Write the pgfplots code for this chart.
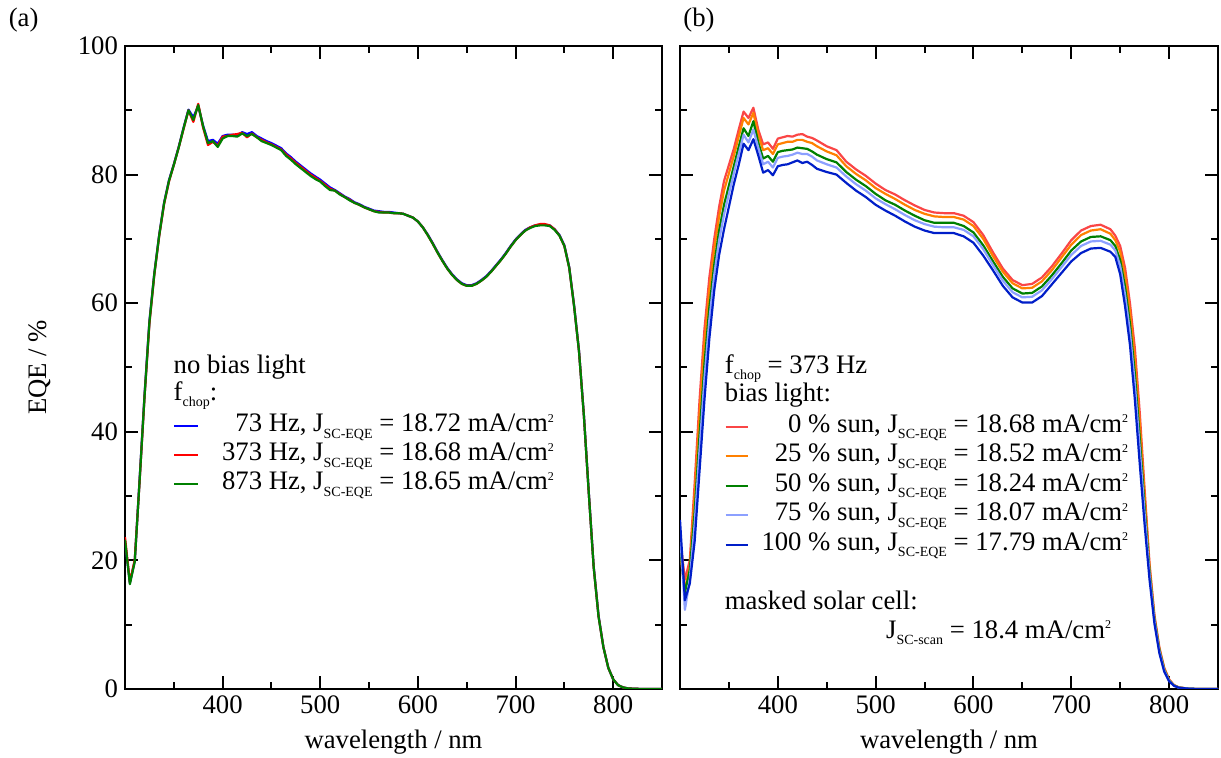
\documentclass[border=0pt]{standalone}
\usepackage{fontspec}
\setmainfont{Liberation Serif}
\usepackage{pgfplots}
\pgfplotsset{compat=1.18}
\newcommand{\fs}{\fontsize{13.35}{16}\selectfont}
\newcommand{\sub}[1]{\raisebox{-3.3pt}{\fontsize{7}{7}\selectfont #1}}
\newcommand{\sq}{\raisebox{4.8pt}{\fontsize{6}{6}\selectfont 2}}
\definecolor{cA}{RGB}{0,0,255}
\definecolor{cR}{RGB}{255,0,0}
\definecolor{cG}{RGB}{0,128,0}
\definecolor{bR}{RGB}{250,70,70}
\definecolor{bO}{RGB}{255,128,0}
\definecolor{bG}{RGB}{0,128,0}
\definecolor{bL}{RGB}{140,160,255}
\definecolor{bB}{RGB}{0,30,200}
\pgfplotsset{
  eqe/.style={
    scale only axis, width=268.5pt, height=321.5pt,
    xmin=300, xmax=850, ymin=0, ymax=100,
    xtick={400,500,600,700,800}, minor xtick={350,450,550,650,750},
    ytick={0,20,40,60,80,100}, minor ytick={10,30,50,70,90},
    tick align=inside, major tick length=6.5pt, minor tick length=3.3pt,
    every tick/.style={black, line width=1pt},
    axis line style={line width=1pt},
    tick label style={font=\fs},
    label style={font=\fs},
    /pgf/number format/assume math mode=true,
    xlabel={wavelength / nm},
    x label style={at={(axis description cs:0.5,-0.082)}, anchor=center},
    no markers, every axis plot/.append style={line width=1.1pt, line join=round},
    legend cell align=left,
    legend image code/.code={\draw[#1] (0pt,0pt) -- (11.7pt,0pt);},
  }
}
\begin{document}
\begin{tikzpicture}[font=\fs]
\path[use as bounding box] (0,0) rectangle (610.5pt,379pt);
\node[anchor=west, inner sep=0] at (4.2pt,369pt) {(a)};
\node[anchor=west, inner sep=0] at (341.5pt,369pt) {(b)};
\begin{axis}[eqe, at={(62.5pt,34.5pt)}, anchor=south west,
  ylabel={EQE / \%},
  y label style={at={(axis description cs:-0.158,0.5)}, anchor=center},
  legend style={at={(axis description cs:0.0895,0.431)}, anchor=north west,
    draw=none, fill=none, inner sep=0pt, outer sep=0pt, font=\fs, row sep=0pt,
    nodes={inner sep=0pt, text height=10pt, text depth=4.5pt},
    /tikz/every odd column/.append style={column sep=11.7pt}},
]
\addplot[cA] coordinates {(300,23.0)(305,16.5)(310,19.9)(315,32.7)(320,45.7)(325,57.2)(330,64.6)(335,70.6)(340,75.6)(345,79.1)(350,81.6)(355,84.3)(360,87.3)(365,90.1)(370,88.9)(375,90.7)(380,87.6)(385,85.2)(390,85.4)(395,84.8)(400,86.0)(405,86.2)(410,86.2)(415,86.1)(420,86.6)(425,86.3)(430,86.6)(435,86.0)(440,85.6)(445,85.2)(450,84.9)(455,84.5)(460,84.1)(465,83.3)(470,82.7)(475,82.0)(480,81.4)(485,80.8)(490,80.2)(495,79.7)(500,79.2)(505,78.6)(510,78.0)(515,77.6)(520,77.1)(525,76.6)(530,76.2)(535,75.7)(540,75.4)(545,75.0)(550,74.7)(555,74.4)(560,74.3)(565,74.2)(570,74.2)(575,74.1)(580,74.0)(585,73.9)(590,73.6)(595,73.3)(600,72.7)(605,71.8)(610,70.7)(615,69.4)(620,68.0)(625,66.7)(630,65.5)(635,64.5)(640,63.7)(645,63.1)(650,62.8)(655,62.8)(660,63.1)(665,63.6)(670,64.2)(675,65.0)(680,65.9)(685,66.8)(690,67.8)(695,68.9)(700,69.9)(705,70.7)(710,71.4)(715,71.8)(720,72.1)(725,72.2)(730,72.2)(735,72.1)(740,71.5)(745,70.6)(750,69.0)(755,65.6)(760,59.6)(765,52.6)(770,42.6)(775,30.6)(780,19.1)(785,11.4)(790,6.5)(795,3.3)(800,1.5)(805,0.6)(810,0.25)(815,0.1)(820,0.05)(830,0)(840,0)(850,0)};
\addlegendentry{\phantom{3}73 Hz, J\sub{SC-EQE} = 18.72 mA/cm\sq}
\addplot[cR] coordinates {(300,23.6)(305,16.6)(310,20.1)(315,32.4)(320,45.4)(325,56.8)(330,64.4)(335,70.4)(340,75.4)(345,78.9)(350,81.5)(355,84.2)(360,87.1)(365,90.0)(370,88.2)(375,91.0)(380,87.3)(385,84.6)(390,85.1)(395,84.5)(400,85.9)(405,86.0)(410,86.2)(415,86.3)(420,86.5)(425,85.8)(430,86.4)(435,85.8)(440,85.4)(445,85.0)(450,84.7)(455,84.3)(460,83.9)(465,83.1)(470,82.5)(475,81.8)(480,81.2)(485,80.6)(490,80.0)(495,79.5)(500,79.0)(505,78.4)(510,77.8)(515,77.5)(520,77.0)(525,76.5)(530,76.1)(535,75.6)(540,75.3)(545,74.9)(550,74.6)(555,74.3)(560,74.2)(565,74.1)(570,74.1)(575,74.0)(580,74.0)(585,73.9)(590,73.6)(595,73.3)(600,72.7)(605,71.8)(610,70.6)(615,69.3)(620,67.9)(625,66.6)(630,65.4)(635,64.4)(640,63.6)(645,63.0)(650,62.7)(655,62.7)(660,63.0)(665,63.5)(670,64.1)(675,64.9)(680,65.8)(685,66.7)(690,67.7)(695,68.8)(700,69.8)(705,70.6)(710,71.3)(715,71.8)(720,72.1)(725,72.3)(730,72.3)(735,72.1)(740,71.5)(745,70.5)(750,68.9)(755,65.5)(760,59.5)(765,52.5)(770,42.5)(775,30.5)(780,19.0)(785,11.3)(790,6.5)(795,3.3)(800,1.5)(805,0.6)(810,0.25)(815,0.1)(820,0.05)(830,0)(840,0)(850,0)};
\addlegendentry{373 Hz, J\sub{SC-EQE} = 18.68 mA/cm\sq}
\addplot[cG] coordinates {(300,23.2)(305,16.3)(310,19.8)(315,32.5)(320,45.5)(325,57.0)(330,64.5)(335,70.5)(340,75.5)(345,79.0)(350,81.5)(355,84.2)(360,87.2)(365,90.0)(370,88.5)(375,90.8)(380,87.5)(385,84.9)(390,85.2)(395,84.3)(400,85.6)(405,86.0)(410,86.0)(415,85.9)(420,86.4)(425,86.0)(430,86.3)(435,85.8)(440,85.2)(445,84.9)(450,84.6)(455,84.2)(460,83.8)(465,82.9)(470,82.3)(475,81.6)(480,81.0)(485,80.4)(490,79.8)(495,79.3)(500,78.9)(505,78.2)(510,77.6)(515,77.5)(520,76.9)(525,76.5)(530,76.0)(535,75.6)(540,75.3)(545,74.9)(550,74.6)(555,74.3)(560,74.1)(565,74.1)(570,74.1)(575,74.0)(580,74.0)(585,73.9)(590,73.6)(595,73.3)(600,72.7)(605,71.8)(610,70.6)(615,69.3)(620,67.9)(625,66.6)(630,65.4)(635,64.4)(640,63.6)(645,63.0)(650,62.7)(655,62.7)(660,63.0)(665,63.5)(670,64.1)(675,64.9)(680,65.8)(685,66.7)(690,67.7)(695,68.8)(700,69.8)(705,70.6)(710,71.3)(715,71.7)(720,72.0)(725,72.1)(730,72.1)(735,72.0)(740,71.4)(745,70.5)(750,68.9)(755,65.5)(760,59.5)(765,52.5)(770,42.5)(775,30.5)(780,19.0)(785,11.3)(790,6.5)(795,3.3)(800,1.5)(805,0.6)(810,0.25)(815,0.1)(820,0.05)(830,0)(840,0)(850,0)};
\addlegendentry{873 Hz, J\sub{SC-EQE} = 18.65 mA/cm\sq}
\node[anchor=base west, inner sep=0] at (axis cs:349.5,49.1) {no bias light};
\node[anchor=base west, inner sep=0] at (axis cs:349.5,44.9) {f\sub{chop}:};
\end{axis}
\begin{axis}[eqe, at={(340pt,34.5pt)}, anchor=south west, width=269pt,
  yticklabels={},
  legend style={at={(axis description cs:0.0827,0.431)}, anchor=north west,
    draw=none, fill=none, inner sep=0pt, outer sep=0pt, font=\fs, row sep=0pt,
    nodes={inner sep=0pt, text height=10.25pt, text depth=4.5pt},
    /tikz/every odd column/.append style={column sep=6.2pt}},
  legend image code/.code={\draw[#1] (0pt,0pt) -- (11.2pt,0pt);},
]
\addplot[bR] coordinates {(300,23.7)(305,17.0)(310,20.0)(315,32.0)(320,45.0)(325,56.0)(330,64.0)(335,70.0)(340,75.0)(345,79.0)(350,81.5)(355,84.0)(360,87.0)(365,89.8)(370,88.8)(375,90.4)(380,87.0)(385,84.7)(390,85.0)(395,84.0)(400,85.6)(405,85.8)(410,86.0)(415,85.9)(420,86.2)(425,86.3)(430,85.9)(435,85.7)(440,85.3)(450,84.4)(460,83.8)(470,82.0)(480,80.8)(490,79.8)(500,78.6)(510,77.6)(520,76.9)(530,76.0)(540,75.2)(550,74.5)(560,74.1)(570,74.0)(580,74.0)(590,73.6)(600,72.6)(610,70.6)(620,67.9)(630,65.4)(640,63.6)(650,62.8)(660,63.0)(670,64.0)(680,65.7)(690,67.7)(700,69.8)(710,71.3)(720,72.0)(730,72.2)(740,71.5)(745,70.5)(750,68.9)(755,65.5)(760,60.0)(765,53.0)(770,43.0)(775,31.0)(780,19.5)(785,11.5)(790,6.5)(795,3.3)(800,1.5)(805,0.6)(810,0.25)(820,0.05)(830,0)(850,0)};
\addlegendentry{\phantom{10}0 \% sun, J\sub{SC-EQE} = 18.68 mA/cm\sq}
\addplot[bO] coordinates {(300,21.2)(305,15.5)(310,19.0)(315,30.2)(320,42.8)(325,53.8)(330,62.1)(335,68.4)(340,73.5)(345,77.5)(350,80.2)(355,82.9)(360,85.9)(365,88.8)(370,87.8)(375,89.6)(380,86.2)(385,83.8)(390,84.1)(395,83.2)(400,84.7)(405,84.9)(410,85.1)(415,85.1)(420,85.4)(425,85.4)(430,85.1)(435,84.9)(440,84.4)(450,83.6)(460,83.0)(470,81.3)(480,80.1)(490,79.1)(500,77.9)(510,77.0)(520,76.2)(530,75.3)(540,74.5)(550,73.9)(560,73.5)(570,73.4)(580,73.4)(590,73.0)(600,72.0)(610,70.0)(620,67.3)(630,64.9)(640,63.1)(650,62.3)(660,62.4)(670,63.4)(680,65.1)(690,67.1)(700,69.1)(710,70.6)(720,71.3)(730,71.5)(740,70.8)(745,69.8)(750,68.0)(755,64.3)(760,58.7)(765,51.4)(770,41.4)(775,29.9)(780,19.0)(785,11.2)(790,6.3)(795,3.2)(800,1.4)(805,0.6)(810,0.24)(820,0.05)(830,0)(850,0)};
\addlegendentry{\phantom{1}25 \% sun, J\sub{SC-EQE} = 18.52 mA/cm\sq}
\addplot[bG] coordinates {(300,22.0)(305,15.0)(310,18.5)(315,27.5)(320,39.5)(325,50.5)(330,59.3)(335,66.0)(340,71.3)(345,75.3)(350,78.3)(355,81.3)(360,84.3)(365,87.2)(370,86.0)(375,88.3)(380,85.0)(385,82.5)(390,82.9)(395,82.0)(400,83.5)(405,83.7)(410,83.8)(415,83.9)(420,84.2)(425,84.1)(430,84.0)(435,83.6)(440,83.1)(450,82.4)(460,81.9)(470,80.4)(480,79.2)(490,78.2)(500,77.0)(510,76.0)(520,75.3)(530,74.4)(540,73.6)(550,72.9)(560,72.5)(570,72.5)(580,72.5)(590,72.0)(600,71.0)(610,69.0)(620,66.5)(630,64.1)(640,62.3)(650,61.5)(660,61.6)(670,62.6)(680,64.3)(690,66.2)(700,68.2)(710,69.6)(720,70.3)(730,70.4)(740,69.8)(745,68.9)(750,66.7)(755,62.5)(760,56.8)(765,49.0)(770,39.0)(775,28.3)(780,18.3)(785,10.9)(790,6.1)(795,3.0)(800,1.35)(805,0.55)(810,0.22)(820,0.05)(830,0)(850,0)};
\addlegendentry{\phantom{1}50 \% sun, J\sub{SC-EQE} = 18.24 mA/cm\sq}
\addplot[bL] coordinates {(300,24.5)(305,12.3)(310,17.0)(315,25.7)(320,37.3)(325,48.3)(330,57.4)(335,64.4)(340,69.8)(345,73.8)(350,77.0)(355,80.2)(360,83.2)(365,86.2)(370,85.0)(375,87.0)(380,84.2)(385,81.6)(390,82.0)(395,81.1)(400,82.6)(405,82.8)(410,82.9)(415,83.1)(420,83.4)(425,83.2)(430,83.2)(435,82.8)(440,82.2)(450,81.6)(460,81.1)(470,79.7)(480,78.5)(490,77.5)(500,76.3)(510,75.4)(520,74.6)(530,73.7)(540,72.9)(550,72.3)(560,71.9)(570,71.8)(580,71.8)(590,71.4)(600,70.4)(610,68.4)(620,65.9)(630,63.5)(640,61.7)(650,60.9)(660,61.0)(670,62.0)(680,63.7)(690,65.6)(700,67.5)(710,68.9)(720,69.6)(730,69.7)(740,69.1)(745,68.2)(750,65.8)(755,61.3)(760,55.5)(765,47.4)(770,37.4)(775,27.2)(780,17.8)(785,10.6)(790,5.9)(795,2.9)(800,1.3)(805,0.5)(810,0.2)(820,0.05)(830,0)(850,0)};
\addlegendentry{\phantom{1}75 \% sun, J\sub{SC-EQE} = 18.07 mA/cm\sq}
\addplot[bB] coordinates {(300,26.3)(305,13.8)(310,16.4)(315,23.0)(320,34.0)(325,45.0)(330,54.5)(335,62.0)(340,67.5)(345,71.5)(350,75.0)(355,78.5)(360,81.5)(365,84.8)(370,83.8)(375,85.5)(380,83.0)(385,80.3)(390,80.7)(395,79.9)(400,81.3)(405,81.5)(410,81.6)(415,81.9)(420,82.2)(425,81.8)(430,82.0)(435,81.5)(440,80.9)(450,80.4)(460,80.0)(470,78.7)(480,77.5)(490,76.5)(500,75.3)(510,74.4)(520,73.6)(530,72.7)(540,71.9)(550,71.3)(560,70.9)(570,70.9)(580,70.9)(590,70.4)(600,69.4)(610,67.4)(620,65.1)(630,62.7)(640,60.9)(650,60.1)(660,60.1)(670,61.1)(680,62.9)(690,64.7)(700,66.5)(710,67.8)(720,68.5)(730,68.6)(740,68.0)(745,67.2)(750,64.5)(755,59.5)(760,53.5)(765,45.0)(770,35.0)(775,25.5)(780,17.0)(785,10.2)(790,5.6)(795,2.7)(800,1.2)(805,0.5)(810,0.2)(820,0.05)(830,0)(850,0)};
\addlegendentry{100 \% sun, J\sub{SC-EQE} = 17.79 mA/cm\sq}
\node[anchor=base west, inner sep=0] at (axis cs:345.5,49.1) {f\sub{chop} = 373 Hz};
\node[anchor=base west, inner sep=0] at (axis cs:345.5,44.7) {bias light:};
\node[anchor=base west, inner sep=0] at (axis cs:345.5,12.3) {masked solar cell:};
\node[anchor=base west, inner sep=0] at (axis cs:510.3,7.9) {J\sub{SC-scan} = 18.4 mA/cm\sq};
\end{axis}
\end{tikzpicture}
\end{document}
